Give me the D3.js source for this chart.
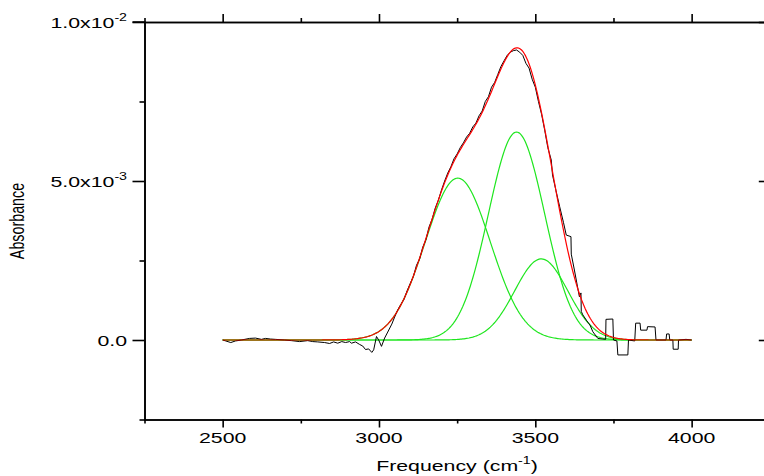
<!DOCTYPE html>
<html>
<head>
<meta charset="utf-8">
<script src="https://cdn.jsdelivr.net/npm/d3@7"></script>
<style>
  html, body { margin: 0; padding: 0; background: #fff; }
  svg { display: block; }
  text { font-family: "Liberation Sans", Arial, sans-serif; fill: #000; }
</style>
</head>
<body>
<svg id="chart" width="764" height="476"></svg>
<script>
// Measured IR absorbance spectrum (absorbance in units of 1e-3)
const frequency = [
  2500, 2510, 2526, 2541, 2560, 2586, 2605, 2624, 2637, 2653, 2669, 2698, 2720, 2746,
  2772, 2788, 2804, 2826, 2842, 2855, 2868, 2881, 2893, 2906, 2912, 2925, 2938, 2948,
  2957, 2967, 2977, 2983, 2992, 2999, 3008, 3018, 3028, 3041, 3050, 3060, 3070, 3080,
  3090, 3100, 3110, 3120, 3130, 3140, 3150, 3160, 3170, 3180, 3190, 3200, 3210, 3220,
  3230, 3240, 3250, 3260, 3270, 3280, 3290, 3300, 3310, 3320, 3330, 3340, 3350, 3360,
  3370, 3380, 3390, 3400, 3410, 3420, 3430, 3440, 3450, 3460, 3470, 3480, 3490, 3500,
  3510, 3520, 3530, 3540, 3551, 3555, 3566, 3578, 3590, 3599, 3614, 3615, 3625, 3641,
  3646, 3647, 3652, 3665, 3675, 3684, 3700, 3716, 3725, 3726, 3748, 3750, 3761, 3764,
  3796, 3798, 3818, 3821, 3835, 3837, 3857, 3859, 3883, 3886, 3918, 3920, 3928, 3930,
  3940, 3941, 3957, 3958, 3982, 4000
];
const absorbance = [
  0, -0.03, -0.08, -0.03, 0, 0.05, 0.06, 0.02, 0.05, 0.03, 0.02, 0, -0.02, -0.05,
  -0.02, -0.05, -0.06, -0.08, -0.11, -0.06, -0.1, -0.05, -0.08, -0.05, -0.1, -0.06, -0.14, -0.19,
  -0.3, -0.28, -0.39, -0.31, 0.11, 0, -0.2, 0.06, 0.25, 0.5, 0.72, 0.95, 1.12, 1.28,
  1.55, 1.78, 2.0, 2.35, 2.55, 2.92, 3.15, 3.55, 3.8, 4.15, 4.4, 4.72, 5.0, 5.25,
  5.45, 5.7, 5.85, 6.05, 6.2, 6.38, 6.5, 6.7, 6.82, 7.05, 7.2, 7.5, 7.65, 7.95,
  8.1, 8.35, 8.6, 8.78, 8.95, 9.05, 9.1, 9.12, 9.05, 8.95, 8.7, 8.55, 8.2, 7.95,
  7.5, 7.1, 6.6, 6.05, 5.66, 5.19, 4.7, 4.19, 3.7, 3.3, 3.25, 2.7, 2.2, 1.36,
  1.48, 0.9, 0.79, 0.6, 0.47, 0.26, 0.05, 0.03, 0.02, 0.65, 0.66, 0, -0.03, -0.47,
  -0.47, 0, -0.03, 0.53, 0.53, 0.31, 0.31, 0.42, 0.41, 0, 0, 0.19, 0.19, 0,
  0, -0.29, -0.29, 0, 0.02, 0
];

// Gaussian components of the fit
const peakCenter = [3252, 3440, 3519];
const peakHeight = [5.09, 6.54, 2.55];
const peakSigma  = [104, 90, 85];
const fitRange   = [2500, 4000];

// Axis ticks
const xMajorTicks = [2500, 3000, 3500, 4000];
const xMinorTicks = [2250, 2750, 3250, 3750, 4250];
const yMajorTicks = [0, 5, 10];
const yMinorTicks = [-2.5, 2.5, 7.5];
const yTickMantissa = ["0.0", "5.0x10", "1.0x10"];
const yTickExponent = ["", "-3", "-2"];

const svg = d3.select("#chart");
const margin = { left: 144.5, right: 769.8, top: 22, bottom: 419.5 };
const x = d3.scaleLinear().domain([2250, 4250]).range([margin.left, margin.right]);
const y = d3.scaleLinear().domain([-2.5, 10]).range([margin.bottom, margin.top]);
const stretch = 1.42;

// fit curves
const fitX = d3.range(fitRange[0], fitRange[1] + 0.1, 4);
const gauss = (f, i) => peakHeight[i] * Math.exp(-((f - peakCenter[i]) ** 2) / (2 * peakSigma[i] ** 2));
const components = peakCenter.map((_, i) => fitX.map(f => [f, gauss(f, i)]));
const total = fitX.map(f => [f, peakCenter.reduce((s, _, i) => s + gauss(f, i), 0)]);

const line = d3.line().x(d => x(d[0])).y(d => y(d[1]));

const plot = svg.append("g");
components.forEach(c => {
  plot.append("path").datum(c).attr("d", line)
    .attr("fill", "none").attr("stroke", "#1ee61e").attr("stroke-width", 1.2);
});
plot.append("path").datum(frequency.map((f, i) => [f, absorbance[i]])).attr("d", line)
  .attr("fill", "none").attr("stroke", "#000").attr("stroke-width", 1);
plot.append("path").datum(total).attr("d", line)
  .attr("fill", "none").attr("stroke", "#ff0000").attr("stroke-width", 1.2);

// axes frame
const axisStyle = g => g.selectAll("path, line").attr("stroke", "#000").attr("stroke-width", 1.6);
function addAxis(gen, tr) {
  const g = svg.append("g").attr("transform", tr).call(gen);
  g.selectAll("text").remove();
  g.call(axisStyle);
  return g;
}
addAxis(d3.axisBottom(x).tickValues(xMajorTicks).tickSize(8).tickSizeOuter(0).tickFormat(""), `translate(0,${margin.bottom})`);
addAxis(d3.axisBottom(x).tickValues(xMinorTicks).tickSize(4).tickSizeOuter(0).tickFormat(""), `translate(0,${margin.bottom})`);
addAxis(d3.axisBottom(x).tickValues(xMajorTicks).tickSize(-8).tickSizeOuter(0).tickFormat(""), `translate(0,${margin.top})`);
addAxis(d3.axisBottom(x).tickValues(xMinorTicks).tickSize(-4).tickSizeOuter(0).tickFormat(""), `translate(0,${margin.top})`);
addAxis(d3.axisLeft(y).tickValues(yMajorTicks).tickSize(12).tickSizeOuter(0).tickFormat(""), `translate(${margin.left},0)`);
addAxis(d3.axisLeft(y).tickValues(yMinorTicks).tickSize(5).tickSizeOuter(0).tickFormat(""), `translate(${margin.left},0)`);
addAxis(d3.axisRight(y).tickValues(yMajorTicks).tickSize(-11).tickSizeOuter(0).tickFormat(""), `translate(${margin.right},0)`);
addAxis(d3.axisRight(y).tickValues(yMinorTicks).tickSize(-5).tickSizeOuter(0).tickFormat(""), `translate(${margin.right},0)`);
svg.selectAll(".domain").attr("stroke-linecap", "square");
// top border reaches out to the left tick end
svg.append("line").attr("x1", margin.left - 12).attr("x2", margin.left)
  .attr("y1", y(10)).attr("y2", y(10)).attr("stroke", "#000").attr("stroke-width", 1.6);

// x tick labels
xMajorTicks.forEach(v => {
  svg.append("g").attr("transform", `translate(${x(v)},443) scale(${stretch},1)`)
    .append("text").attr("text-anchor", "middle").attr("font-size", 15).text(v);
});

// y tick labels with superscript exponents
yMajorTicks.forEach((v, i) => {
  const t = svg.append("g").attr("transform", `translate(127,${y(v) + 5.8}) scale(${stretch},1)`)
    .append("text").attr("text-anchor", "end").attr("font-size", 15);
  t.append("tspan").text(yTickMantissa[i]);
  if (yTickExponent[i]) {
    t.append("tspan").attr("font-size", 10).attr("dy", -7).text(yTickExponent[i]);
  }
});

// axis titles
const xt = svg.append("g").attr("transform", `translate(457,471) scale(${stretch},1)`)
  .append("text").attr("text-anchor", "middle").attr("font-size", 15);
xt.append("tspan").text("Frequency (cm");
xt.append("tspan").attr("font-size", 10).attr("dy", -7).text("-1");
xt.append("tspan").attr("dy", 7).text(")");

svg.append("g").attr("transform", `translate(24,221) scale(${stretch},1) rotate(-90)`)
  .append("text").attr("text-anchor", "middle").attr("font-size", 14.3).text("Absorbance");
</script>
</body>
</html>
